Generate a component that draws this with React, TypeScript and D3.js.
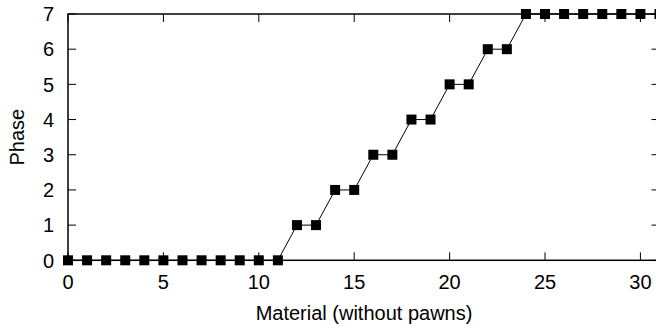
import React, { useEffect, useRef } from "react";
import * as d3 from "d3";

const material = d3.range(0, 32);
const phase = [
  0, 0, 0, 0, 0, 0, 0, 0, 0, 0, 0, 0,
  1, 1, 2, 2, 3, 3, 4, 4, 5, 5, 6, 6,
  7, 7, 7, 7, 7, 7, 7, 7,
];
const xTicks = [0, 5, 10, 15, 20, 25, 30];
const yTicks = [0, 1, 2, 3, 4, 5, 6, 7];

const App = () => {
  const ref = useRef<SVGSVGElement>(null);

  useEffect(() => {
    if (!ref.current) return;
    const svg = d3.select(ref.current);
    svg.selectAll("*").remove();

    const left = 68, right = 659.5, top = 14, bottom = 260.3;
    const x = d3.scaleLinear().domain([0, 31]).range([left, right]);
    const y = d3.scaleLinear().domain([0, 7]).range([bottom, top]);
    const tick = 8;
    const font = "'Liberation Sans', Arial, sans-serif";
    const fs = 20;

    const g = svg.append("g");

    // inward ticks, mirrored on all sides
    xTicks.forEach((t) => {
      g.append("line").attr("x1", x(t)).attr("x2", x(t))
        .attr("y1", bottom).attr("y2", bottom - tick).attr("stroke", "#000");
      g.append("line").attr("x1", x(t)).attr("x2", x(t))
        .attr("y1", top).attr("y2", top + tick).attr("stroke", "#000");
      g.append("text").text(t).attr("x", x(t)).attr("y", bottom + 29)
        .attr("text-anchor", "middle").attr("font-family", font).attr("font-size", fs);
    });
    yTicks.forEach((t) => {
      g.append("line").attr("x1", left).attr("x2", left + tick)
        .attr("y1", y(t)).attr("y2", y(t)).attr("stroke", "#000");
      g.append("line").attr("x1", right).attr("x2", right - tick)
        .attr("y1", y(t)).attr("y2", y(t)).attr("stroke", "#000");
      g.append("text").text(t).attr("x", left - 14).attr("y", y(t))
        .attr("dy", "0.36em")
        .attr("text-anchor", "end").attr("font-family", font).attr("font-size", fs);
    });

    g.append("rect").attr("x", left).attr("y", top)
      .attr("width", right - left).attr("height", bottom - top)
      .attr("fill", "none").attr("stroke", "#000").attr("stroke-width", 1.5);

    const data = material.map((m, i) => ({ m, p: phase[i] }));
    const line = d3.line<{ m: number; p: number }>()
      .x((d) => x(d.m)).y((d) => y(d.p));
    g.append("path").datum(data).attr("d", line)
      .attr("fill", "none").attr("stroke", "#000").attr("stroke-width", 1);

    const s = 10;
    g.selectAll(".pt").data(data).enter().append("rect")
      .attr("x", (d) => x(d.m) - s / 2).attr("y", (d) => y(d.p) - s / 2)
      .attr("width", s).attr("height", s).attr("fill", "#000");

    g.append("text").text("Material (without pawns)")
      .attr("x", 364).attr("y", 320)
      .attr("text-anchor", "middle").attr("font-family", font).attr("font-size", fs);
    g.append("text").text("Phase")
      .attr("transform", `translate(24,${(top + bottom) / 2}) rotate(-90)`)
      .attr("text-anchor", "middle").attr("font-family", font).attr("font-size", fs);
  }, []);

  return (
    <svg ref={ref} width={656} height={328}
      style={{ position: "absolute", left: 0, top: 0, background: "#fff" }} />
  );
};

export default App;
